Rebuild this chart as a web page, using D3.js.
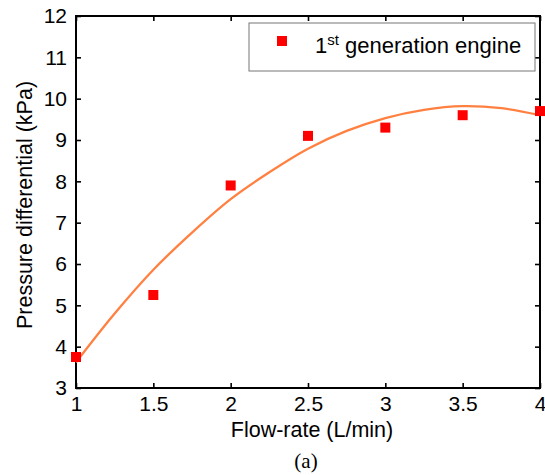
<!DOCTYPE html>
<html>
<head>
<meta charset="utf-8">
<script src="https://cdn.jsdelivr.net/npm/d3@7"></script>
<style>
  body { margin: 0; background: #fff; }
  svg text { font-family: "Liberation Sans", Arial, Helvetica, sans-serif; fill: #000; }
</style>
</head>
<body>
<div id="chart"></div>
<script>
// measured points
const flowRate = [1, 1.5, 2, 2.5, 3, 3.5, 4];
const pressure = [3.75, 5.25, 7.9, 9.1, 9.3, 9.6, 9.7];

// fitted curve
const fitX = [1, 1.25, 1.5, 1.75, 2, 2.25, 2.5, 2.75, 3, 3.25, 3.5, 3.75, 4];
const fitY = [3.62, 4.80, 5.86, 6.76, 7.57, 8.22, 8.79, 9.22, 9.53, 9.73, 9.82, 9.77, 9.60];

const xTicks = [1, 1.5, 2, 2.5, 3, 3.5, 4];
const yTicks = [3, 4, 5, 6, 7, 8, 9, 10, 11, 12];

const W = 545, H = 475;
const margin = {top: 16, right: 5, bottom: 87, left: 76};
const width = W - margin.left - margin.right;
const height = H - margin.top - margin.bottom;

const svg = d3.select("#chart").append("svg")
  .attr("width", W)
  .attr("height", H);

const g = svg.append("g")
  .attr("transform", "translate(" + margin.left + "," + margin.top + ")");

const x = d3.scaleLinear().domain([1, 4]).range([0, width]);
const y = d3.scaleLinear().domain([3, 12]).range([height, 0]);

// ticks pointing inward on all four sides
const tickLen = 5;
g.append("g")
  .attr("transform", "translate(0," + height + ")")
  .call(d3.axisBottom(x).tickValues(xTicks).tickSizeInner(-tickLen).tickSizeOuter(0).tickPadding(8).tickFormat(d3.format("")))
  .call(a => a.select(".domain").remove());
g.append("g")
  .call(d3.axisTop(x).tickValues(xTicks).tickSizeInner(-tickLen).tickSizeOuter(0).tickFormat(""))
  .call(a => a.select(".domain").remove());
g.append("g")
  .call(d3.axisLeft(y).tickValues(yTicks).tickSizeInner(-tickLen).tickSizeOuter(0).tickPadding(9))
  .call(a => a.select(".domain").remove());
g.append("g")
  .attr("transform", "translate(" + width + ",0)")
  .call(d3.axisRight(y).tickValues(yTicks).tickSizeInner(-tickLen).tickSizeOuter(0).tickFormat(""))
  .call(a => a.select(".domain").remove());

g.selectAll(".tick line").attr("stroke", "#000").attr("stroke-width", 1.6);
g.selectAll(".tick text").style("font-size", "21px");

// frame
g.append("rect")
  .attr("x", 0).attr("y", 0)
  .attr("width", width).attr("height", height)
  .attr("fill", "none")
  .attr("stroke", "#000")
  .attr("stroke-width", 2);

// fit line
const line = d3.line()
  .x((d, i) => x(fitX[i]))
  .y(d => y(d))
  .curve(d3.curveCatmullRom);

g.append("path")
  .datum(fitY)
  .attr("d", line)
  .attr("fill", "none")
  .attr("stroke", "#ff8040")
  .attr("stroke-width", 2.3);

// markers
const ms = 10;
g.selectAll("rect.pt")
  .data(flowRate)
  .enter()
  .append("rect")
  .attr("class", "pt")
  .attr("x", d => x(d) - ms / 2)
  .attr("y", (d, i) => y(pressure[i]) - ms / 2)
  .attr("width", ms)
  .attr("height", ms)
  .attr("fill", "#ff0000");

// legend
const lg = svg.append("g").attr("transform", "translate(249,23)");
lg.append("rect")
  .attr("width", 286).attr("height", 48)
  .attr("fill", "#fff")
  .attr("stroke", "#777")
  .attr("stroke-width", 1);
lg.append("rect")
  .attr("x", 28).attr("y", 13)
  .attr("width", ms).attr("height", ms)
  .attr("fill", "#ff0000");
const lt = lg.append("text")
  .attr("x", 66).attr("y", 30)
  .style("font-size", "22px");
lt.append("tspan").text("1");
lt.append("tspan").attr("dy", -8).style("font-size", "15px").text("st");
lt.append("tspan").attr("dy", 8).text(" generation engine");

// axis labels
svg.append("text")
  .attr("x", margin.left + width / 2 + 4)
  .attr("y", 437)
  .attr("text-anchor", "middle")
  .style("font-size", "21.5px")
  .text("Flow-rate (L/min)");

svg.append("text")
  .attr("transform", "translate(32," + (margin.top + height / 2 + 3) + ") rotate(-90)")
  .attr("text-anchor", "middle")
  .style("font-size", "21.5px")
  .text("Pressure differential (kPa)");

svg.append("text")
  .attr("x", 306)
  .attr("y", 468)
  .attr("text-anchor", "middle")
  .style("font-family", "'Liberation Serif', 'Times New Roman', serif")
  .style("font-size", "21px")
  .text("(a)");
</script>
</body>
</html>
